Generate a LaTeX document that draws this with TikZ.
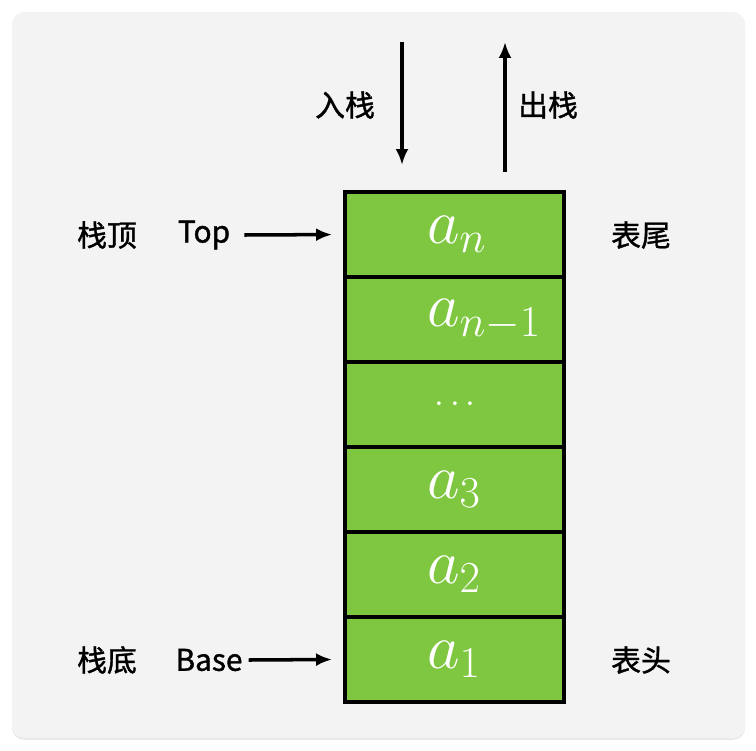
\documentclass[tikz,border=0pt]{standalone}
\usepackage{fix-cm}
\usepackage{fontspec}
\setmainfont{Noto Sans CJK SC}[FakeBold=1.2]
\usetikzlibrary{positioning,arrows.meta,shadows}
\definecolor{stackgreen}{RGB}{127,199,65}
\definecolor{panelgray}{RGB}{243,243,243}

\begin{document}
\begin{tikzpicture}
      [x=0.02cm, y=-0.02cm,
      cell/.style={rectangle, draw=black, line width=2pt, fill=stackgreen,
        minimum width=4.38cm, minimum height=1.7cm, outer sep=0pt,
        text width=1.1cm, align=left, inner xsep=0pt, text=white,
        font=\fontsize{36}{40}\selectfont},
      tag/.style={font=\fontsize{17}{20}\selectfont},
      move/.style={-{Latex[length=3.2mm,width=2.6mm]}, line width=2pt},
      ]
      \useasboundingbox (0,0) rectangle (756,750);
      \fill[panelgray, rounded corners=0.24cm,
        drop shadow={opacity=0.18, shadow xshift=0pt, shadow yshift=-1pt}]
        (12,12) rectangle (745,738);
      % stack
      \node[cell] (an) at (454.5,234.5) {$a_n$};
      \node[cell, below=0pt of an] (an1) {$a_{n-1}$};
      \node[cell, below=0pt of an1, font=\fontsize{20}{24}\selectfont] (dots) {\hspace{0.15cm}$\cdots$};
      \node[cell, below=0pt of dots] (a3) {$a_3$};
      \node[cell, below=0pt of a3] (a2) {$a_2$};
      \node[cell, below=0pt of a2] (a1) {$a_1$};
      % push and pop
      \coordinate (pushstart) at (402,42);
      \coordinate (pushend) at (402,165);
      \coordinate (popstart) at (505,172);
      \coordinate (popend) at (505,42);
      \draw[move] (pushstart) -- (pushend);
      \draw[move] (popstart) -- (popend);
      \node[tag] (push) at (345,105) {入栈};
      \node[tag] (pop) at (548,105) {出栈};
      % left side
      \node[tag] (toplabel) at (107,235) {栈顶};
      \node[tag] (top) at (204,235) {Top};
      \node[tag] (baselabel) at (107,660) {栈底};
      \node[tag] (base) at (209,660) {Base};
      \draw[move, shorten >=13*0.02cm] (top.east) ++(8,0) -- (an.west);
      \draw[move, shorten >=13*0.02cm] (base.east) -- (a1.west);
      % right side
      \node[tag] (tail) at (641,235) {表尾};
      \node[tag] (head) at (641,660) {表头};
\end{tikzpicture}
\end{document}
